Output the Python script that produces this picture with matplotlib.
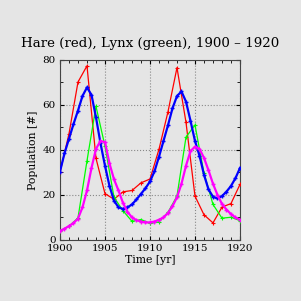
import numpy as np
import matplotlib
matplotlib.use("Agg")
import matplotlib.pyplot as plt
from matplotlib.ticker import MultipleLocator

# Observed data
years = list(range(1900, 1921))
hare = [30.0, 47.2, 70.2, 77.4, 36.3, 20.6, 18.1, 21.4, 22.0, 25.4, 27.1,
        40.3, 57.0, 76.6, 52.3, 19.5, 11.2, 7.6, 14.6, 16.2, 24.7]
lynx = [4.0, 6.1, 9.8, 35.2, 59.4, 41.7, 19.0, 13.0, 8.3, 9.1, 7.4,
        8.0, 12.3, 19.5, 45.7, 51.1, 29.7, 15.8, 9.7, 10.1, 8.6]

# Model curves (at half-year steps)
model_t = [1900.0, 1900.5, 1901.0, 1901.5, 1902.0, 1902.5, 1903.0, 1903.5, 1904.0, 1904.5,
           1905.0, 1905.5, 1906.0, 1906.5, 1907.0, 1907.5, 1908.0, 1908.5, 1909.0, 1909.5,
           1910.0, 1910.5, 1911.0, 1911.5, 1912.0, 1912.5, 1913.0, 1913.5, 1914.0, 1914.5,
           1915.0, 1915.5, 1916.0, 1916.5, 1917.0, 1917.5, 1918.0, 1918.5, 1919.0, 1919.5,
           1920.0]
hare_model = [30.4, 38.5, 45.0, 51.5, 57.5, 64.0, 67.8, 64.5, 54.5, 43.0,
              33.0, 24.0, 17.5, 14.5, 13.8, 14.5, 15.8, 18.0, 20.5, 23.0,
              26.0, 30.5, 37.0, 44.0, 51.0, 58.5, 64.0, 66.0, 61.5, 53.0,
              44.0, 37.5, 29.0, 22.5, 19.2, 18.5, 19.5, 21.5, 24.0, 27.5,
              32.0]
lynx_model = [4.0, 5.0, 6.2, 7.5, 9.5, 14.5, 22.0, 32.0, 40.5, 44.0,
              43.5, 34.0, 27.0, 22.0, 16.5, 12.5, 10.0, 8.8, 8.2, 7.8,
              7.8, 8.2, 9.0, 10.0, 12.0, 15.0, 19.0, 25.0, 33.0, 39.5,
              41.5, 40.5, 36.5, 31.0, 25.0, 20.0, 16.0, 13.5, 11.5, 10.0,
              9.0]

bg = "#e5e5e5"
plt.rcParams["font.family"] = ["DejaVu Serif"]

fig = plt.figure(figsize=(3.01, 3.01), dpi=100, facecolor=bg)
ax = fig.add_axes([0.1993, 0.2027, 0.5980, 0.5980], facecolor=bg)

ax.plot(years, hare, color="#ff0000", lw=0.9, marker="+", ms=3, mew=0.8, zorder=3)
ax.plot(years, lynx, color="#00ff00", lw=0.9, marker="+", ms=3, mew=0.8, zorder=3)
ax.plot(model_t, hare_model, color="#0000ff", lw=1.6, marker="+", ms=3.5, mew=1.0, zorder=4)
ax.plot(model_t, lynx_model, color="#ff00ff", lw=1.6, marker="+", ms=3.5, mew=1.0, zorder=4)

ax.set_xlim(1900, 1920)
ax.set_ylim(0, 80)
ax.xaxis.set_major_locator(MultipleLocator(5))
ax.xaxis.set_minor_locator(MultipleLocator(1))
ax.yaxis.set_major_locator(MultipleLocator(20))
ax.yaxis.set_minor_locator(MultipleLocator(10))
ax.tick_params(which="both", direction="in", top=True, right=True, labelsize=7.5, pad=3)
ax.tick_params(which="major", length=3, width=0.8)
ax.tick_params(which="minor", length=2, width=0.6)
ax.grid(True, which="major", color="#888888", ls=":", lw=0.8)
for s in ax.spines.values():
    s.set_color("#444444")
    s.set_linewidth(0.8)

ax.set_xlabel("Time [yr]", fontsize=7.8, labelpad=1)
ax.set_ylabel("Population [#]", fontsize=7.8, labelpad=3)
fig.text(0.5, 0.857, "Hare (red), Lynx (green), 1900 \u2013 1920", ha="center", va="center", fontsize=9.6)

fig.savefig("out.png", dpi=100, facecolor=bg)
